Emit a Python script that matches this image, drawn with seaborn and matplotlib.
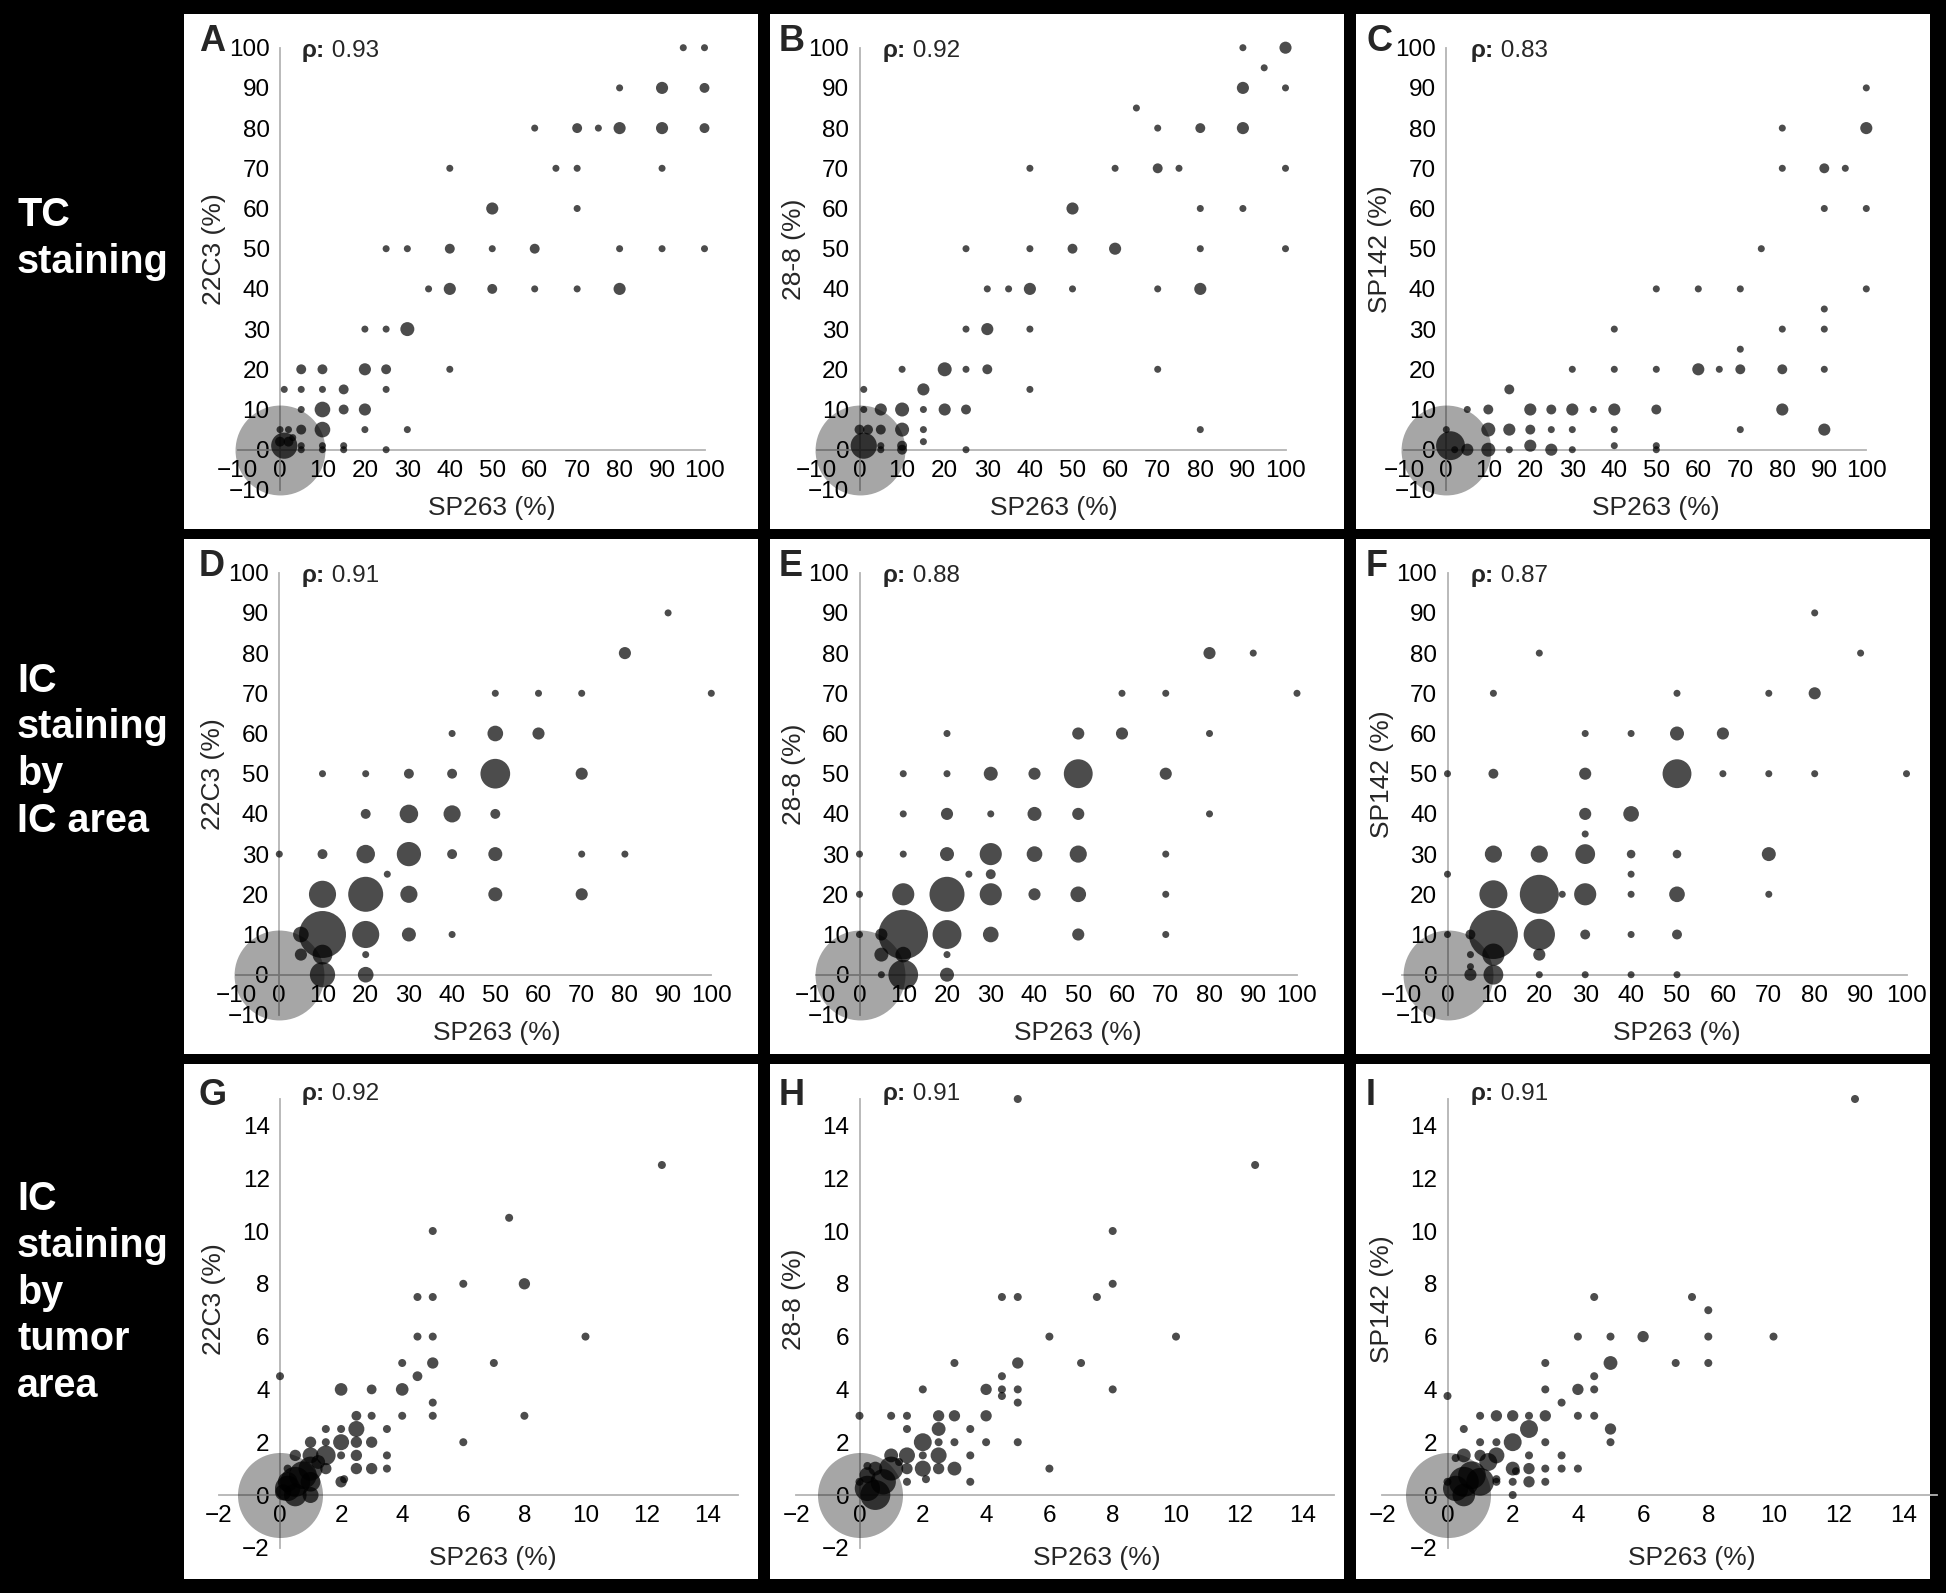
import matplotlib
matplotlib.use("Agg")
import matplotlib.pyplot as plt
from matplotlib.patches import Rectangle
import seaborn as sns
import pandas as pd

# ---- data: (SP263 %, comparator %, number of cases) ----
PANEL_A = [(95, 100, 1), (100, 100, 1),
           (80, 90, 1), (90, 90, 3), (100, 90, 2),
           (60, 80, 1), (70, 80, 2), (75, 80, 1), (80, 80, 3), (90, 80, 3), (100, 80, 2),
           (40, 70, 1), (65, 70, 1), (70, 70, 1), (90, 70, 1),
           (50, 60, 3), (70, 60, 1),
           (25, 50, 1), (30, 50, 1), (40, 50, 2), (50, 50, 1), (60, 50, 2), (80, 50, 1),
           (90, 50, 1), (100, 50, 1),
           (35, 40, 1), (40, 40, 3), (50, 40, 2), (60, 40, 1), (70, 40, 1), (80, 40, 3),
           (20, 30, 1), (25, 30, 1), (30, 30, 4),
           (5, 20, 2), (10, 20, 2), (20, 20, 3), (25, 20, 2), (40, 20, 1),
           (1, 15, 1), (5, 15, 1), (10, 15, 1), (15, 15, 2), (25, 15, 1),
           (5, 10, 1), (10, 10, 5), (15, 10, 2), (20, 10, 3),
           (0, 5, 1), (2, 5, 1), (5, 5, 2), (10, 5, 5), (20, 5, 1), (30, 5, 1),
           (3, 3, 1), (2, 2, 2), (0, 2, 2),
           (5, 1, 1), (10, 1, 1), (15, 1, 1), (1, 1, 14),
           (5, 0, 1), (10, 0, 1), (15, 0, 1), (25, 0, 1)]

PANEL_B = [(90, 100, 1), (100, 100, 3), (95, 95, 1), (90, 90, 3), (100, 90, 1),
           (65, 85, 1),
           (70, 80, 1), (80, 80, 2), (90, 80, 3),
           (40, 70, 1), (60, 70, 1), (70, 70, 2), (75, 70, 1), (100, 70, 1),
           (50, 60, 3), (80, 60, 1), (90, 60, 1),
           (25, 50, 1), (40, 50, 1), (50, 50, 2), (60, 50, 3), (80, 50, 1), (100, 50, 1),
           (30, 40, 1), (35, 40, 1), (40, 40, 3), (50, 40, 1), (70, 40, 1), (80, 40, 3),
           (25, 30, 1), (30, 30, 3), (40, 30, 1),
           (10, 20, 1), (20, 20, 4), (25, 20, 1), (30, 20, 2), (70, 20, 1),
           (1, 15, 1), (15, 15, 3), (40, 15, 1),
           (1, 10, 1), (5, 10, 3), (10, 10, 4), (15, 10, 1), (20, 10, 3), (25, 10, 2),
           (0, 5, 2), (2, 5, 2), (5, 5, 2), (10, 5, 4), (15, 5, 1), (80, 5, 1),
           (15, 2, 1), (5, 1, 1), (10, 1, 2), (1, 1, 14),
           (5, 0, 1), (10, 0, 2), (25, 0, 1)]

PANEL_C = [(100, 90, 1),
           (80, 80, 1), (100, 80, 3),
           (80, 70, 1), (90, 70, 2), (95, 70, 1),
           (90, 60, 1), (100, 60, 1),
           (75, 50, 1),
           (50, 40, 1), (60, 40, 1), (70, 40, 1), (100, 40, 1),
           (90, 35, 1),
           (40, 30, 1), (80, 30, 1), (90, 30, 1),
           (70, 25, 1),
           (30, 20, 1), (40, 20, 1), (50, 20, 1), (60, 20, 3), (65, 20, 1), (70, 20, 2),
           (80, 20, 2), (90, 20, 1),
           (15, 15, 2),
           (5, 10, 1), (10, 10, 2), (20, 10, 3), (25, 10, 2), (30, 10, 3), (35, 10, 1),
           (40, 10, 3), (50, 10, 2), (80, 10, 3),
           (0, 5, 1), (10, 5, 4), (15, 5, 3), (20, 5, 2), (25, 5, 1), (30, 5, 1),
           (40, 5, 1), (70, 5, 1), (90, 5, 3),
           (20, 1, 3), (40, 1, 1), (50, 1, 1),
           (1, 1, 17), (2, 0, 1), (5, 0, 3), (10, 0, 4), (15, 0, 1), (25, 0, 3),
           (30, 0, 1), (50, 0, 1)]

PANEL_D = [(90, 90, 1),
           (80, 80, 3),
           (50, 70, 1), (60, 70, 1), (70, 70, 1), (100, 70, 1),
           (40, 60, 1), (50, 60, 5), (60, 60, 3),
           (10, 50, 1), (20, 50, 1), (30, 50, 2), (40, 50, 2), (50, 50, 18), (70, 50, 3),
           (20, 40, 2), (30, 40, 7), (40, 40, 6), (50, 40, 2),
           (0, 30, 1), (10, 30, 2), (20, 30, 7), (30, 30, 12), (40, 30, 2), (50, 30, 4),
           (70, 30, 1), (80, 30, 1),
           (25, 25, 1),
           (10, 20, 15), (20, 20, 25), (30, 20, 6), (50, 20, 4), (70, 20, 3),
           (5, 10, 5), (10, 10, 45), (20, 10, 15), (30, 10, 4), (40, 10, 1),
           (5, 5, 3), (10, 5, 8), (20, 5, 1),
           (10, 0, 13), (20, 0, 5)]

PANEL_E = [(80, 80, 3), (90, 80, 1),
           (60, 70, 1), (70, 70, 1), (100, 70, 1),
           (20, 60, 1), (50, 60, 3), (60, 60, 3), (80, 60, 1),
           (10, 50, 1), (20, 50, 1), (30, 50, 4), (40, 50, 3), (50, 50, 17), (70, 50, 3),
           (10, 40, 1), (20, 40, 3), (30, 40, 1), (40, 40, 4), (50, 40, 3), (80, 40, 1),
           (0, 30, 1), (10, 30, 1), (20, 30, 4), (30, 30, 10), (40, 30, 5), (50, 30, 6),
           (70, 30, 1),
           (25, 25, 1), (30, 25, 2),
           (0, 20, 1), (10, 20, 10), (20, 20, 25), (30, 20, 10), (40, 20, 3), (50, 20, 5),
           (70, 20, 1),
           (0, 10, 1), (5, 10, 3), (10, 10, 50), (20, 10, 17), (30, 10, 5), (50, 10, 3),
           (70, 10, 1),
           (5, 5, 4), (10, 5, 5), (20, 5, 1),
           (5, 0, 1), (10, 0, 18), (20, 0, 4)]

PANEL_F = [(80, 90, 1),
           (20, 80, 1), (90, 80, 1),
           (10, 70, 1), (50, 70, 1), (70, 70, 1), (80, 70, 3),
           (30, 60, 1), (40, 60, 1), (50, 60, 4), (60, 60, 3),
           (0, 50, 1), (10, 50, 2), (30, 50, 3), (50, 50, 17), (60, 50, 1), (70, 50, 1),
           (80, 50, 1), (100, 50, 1),
           (30, 40, 3), (40, 40, 5),
           (30, 35, 1),
           (10, 30, 6), (20, 30, 6), (30, 30, 8), (40, 30, 1.5), (50, 30, 1.5), (70, 30, 4),
           (0, 25, 1), (40, 25, 1),
           (10, 20, 16), (20, 20, 31), (25, 20, 1), (30, 20, 10), (40, 20, 1), (50, 20, 5),
           (70, 20, 1),
           (0, 10, 1), (5, 10, 2), (10, 10, 49), (20, 10, 20), (30, 10, 2), (40, 10, 1),
           (50, 10, 2),
           (5, 5, 1), (10, 5, 10), (20, 5, 3),
           (5, 2, 1),
           (5, 0, 3), (10, 0, 8), (20, 0, 1), (30, 0, 1), (40, 0, 1), (50, 0, 1)]

PANEL_G = [(12.5, 12.5, 1), (7.5, 10.5, 1), (5, 10, 1),
           (6, 8, 1), (8, 8, 2),
           (4.5, 7.5, 1), (5, 7.5, 1),
           (4.5, 6, 1), (5, 6, 1), (10, 6, 1),
           (4, 5, 1), (5, 5, 2), (7, 5, 1),
           (0, 4.5, 1), (4.5, 4.5, 1.5),
           (2, 4, 2.5), (3, 4, 1.5), (4, 4, 2.5),
           (5, 3.5, 1),
           (2.5, 3, 1.5), (3, 3, 1), (4, 3, 1), (5, 3, 1), (8, 3, 1),
           (1.5, 2.5, 1), (2, 2.5, 1), (2.5, 2.5, 4), (3.5, 2.5, 1),
           (1, 2, 2), (1.5, 2, 1), (2, 2, 4), (2.5, 2, 2), (3, 2, 2), (6, 2, 1),
           (0.5, 1.5, 2), (1, 1.5, 4), (1.5, 1.5, 6), (2, 1.5, 1), (2.5, 1.5, 2),
           (3.5, 1.5, 1),
           (1.25, 1.25, 3),
           (0.25, 1, 1), (1.5, 1, 2), (2.5, 1, 2), (3, 1, 2), (3.5, 1, 1),
           (2, 0.5, 2), (2.1, 0.6, 1),
           (0.5, 0.5, 14), (0.75, 0.75, 12), (1, 0.5, 6), (1, 0, 4), (0.5, 0, 8),
           (0.25, 0.25, 10), (0.1, 0.1, 4), (1, 1, 9), (0.25, 0.5, 6)]

PANEL_H = [(5, 15, 1), (12.5, 12.5, 1), (8, 10, 1), (8, 8, 1),
           (4.5, 7.5, 1), (5, 7.5, 1), (7.5, 7.5, 1),
           (6, 6, 1), (10, 6, 1),
           (3, 5, 1), (5, 5, 2), (7, 5, 1),
           (4.5, 4.5, 1),
           (2, 4, 1), (4, 4, 2), (4.5, 4, 1), (5, 4, 1), (8, 4, 1),
           (4.5, 3.75, 1), (5, 3.5, 1),
           (0, 3, 1), (1, 3, 1), (1.5, 3, 1), (2.5, 3, 2), (3, 3, 2), (4, 3, 2),
           (1.5, 2.5, 1), (2.5, 2.5, 3), (3.5, 2.5, 1),
           (2, 2, 5), (2.5, 2, 1), (3, 2, 1), (4, 2, 1), (5, 2, 1),
           (1, 1.5, 3), (1.5, 1.5, 4), (2, 1.5, 1), (2.5, 1.5, 4), (3.5, 1.5, 1),
           (1.25, 1.25, 1), (1.5, 1, 2), (2, 1, 4), (2.5, 1, 2), (3, 1, 3), (6, 1, 1),
           (1.5, 0.5, 1), (2.1, 0.6, 1), (3.5, 0.5, 1),
           (0.5, 0, 14), (0.25, 0.25, 10), (0.75, 0.5, 10), (1, 1, 9), (0.25, 0.75, 4),
           (0.5, 1, 3), (0, 0.5, 1), (0.25, 1.1, 1)]

PANEL_I = [(12.5, 15, 1),
           (4.5, 7.5, 1), (7.5, 7.5, 1), (8, 7, 1),
           (4, 6, 1), (5, 6, 1), (6, 6, 2), (8, 6, 1), (10, 6, 1),
           (3, 5, 1), (5, 5, 3), (7, 5, 1), (8, 5, 1),
           (4.5, 4.5, 1), (0, 3.75, 1),
           (3, 4, 1), (4, 4, 2), (4.5, 4, 1),
           (3.5, 3.5, 1),
           (1, 3, 1), (1.5, 3, 2), (2, 3, 2), (2.5, 3, 1), (3, 3, 2), (4, 3, 1), (4.5, 3, 1),
           (0.5, 2.5, 1), (2.5, 2.5, 5), (5, 2.5, 2),
           (1, 2, 1), (1.5, 2, 1), (2, 2, 5), (3, 2, 1), (5, 2, 1),
           (0.5, 1.5, 3), (1, 1.5, 2), (1.5, 1.5, 4), (2.5, 1.5, 1), (3.5, 1.5, 1),
           (0.25, 1.4, 1),
           (2, 1, 3), (2.5, 1, 2), (3, 1, 1), (3.5, 1, 1), (4, 1, 1),
           (2.1, 0.9, 1),
           (1.5, 0.5, 1), (2, 0.5, 1), (2.5, 0.5, 2), (3, 0.5, 1),
           (2, 0, 1),
           (0, 0.5, 1), (0.5, 0.5, 14), (0.75, 0.75, 12), (1, 0.5, 12), (0.5, 0, 8),
           (0.25, 0.25, 10), (1.25, 1.25, 5), (1.5, 0.6, 1)]

PANELS = [[PANEL_A, PANEL_B, PANEL_C],
          [PANEL_D, PANEL_E, PANEL_F],
          [PANEL_G, PANEL_H, PANEL_I]]

# cases at (0, 0): the big light bubble in every panel
ORIGIN_N = [[165, 165, 165], [165, 165, 165], [113, 113, 113]]

LETTERS = [["A", "B", "C"], ["D", "E", "F"], ["G", "H", "I"]]
RHO = [["0.93", "0.92", "0.83"], ["0.91", "0.88", "0.87"], ["0.92", "0.91", "0.91"]]
Y_LABELS = ["22C3 (%)", "28-8 (%)", "SP142 (%)"]
X_LABEL = "SP263 (%)"
ROW_LABELS = [["TC", "staining"],
              ["IC", "staining", "by", "IC area"],
              ["IC", "staining", "by", "tumor", "area"]]
ROW_LIMS = [(-10, 100), (-10, 100), (-2, 15)]
ROW_TICKS = [list(range(-10, 101, 10)), list(range(-10, 101, 10)), list(range(-2, 15, 2))]

# ---- layout (pixels of the 1946x1593 output) ----
W, H, DPI = 1946, 1593, 100
PANEL_LEFT = [184, 770, 1356]
ROW_TOP = [14, 539, 1064]
PANEL_W, PANEL_H = 574, 515
X0_OFF = [[96, 89.5, 90.3], [95.3, 89.5, 91.5], [96, 89.5, 91.5]]
X_SCALE = [[4.245, 4.26, 4.20], [4.32, 4.375, 4.59], [30.55, 31.65, 32.6]]
Y0_OFF = [435.7, 435.7, 431]
Y_SCALE = [4.02, 4.02, 26.4]
SMALL_PX = [7, 7, 8]
XLAB_OFF = [[308, 284, 300], [313, 308, 321], [309, 327, 336]]
LETTER_OFF = [15, 9, 10]
RHO_OFF = [118, 113, 115]
LETTER_BASE = [37, 37, 41]
RHO_BASE = [43, 43, 36]

AXIS_GREY = "#b4b4b4"
TICK_SIZE = 17.5
LABEL_SIZE = 19
RHO_SIZE = 17.5
LETTER_SIZE = 26

sns.set_theme(style="white")
plt.rcParams["font.family"] = ["Liberation Sans", "DejaVu Sans"]


def fx(px):
    return px / W


def fy(py):
    return 1 - py / H


fig = plt.figure(figsize=(W / DPI, H / DPI), dpi=DPI, facecolor="black")

# row titles in the black left column
for r, lines in enumerate(ROW_LABELS):
    base0 = [226, 691.5, 1210][r]
    for i, line in enumerate(lines):
        fig.text(fx(17), fy(base0 + 46.8 * i), line, color="white", fontsize=28.5,
                 fontweight="bold", ha="left", va="baseline")

for r in range(3):
    lo, hi = ROW_LIMS[r]
    unit = (SMALL_PX[r] * 72 / DPI) ** 2
    for c in range(3):
        pl, pt = PANEL_LEFT[c], ROW_TOP[r]
        fig.add_artist(Rectangle((fx(pl), fy(pt + PANEL_H)), PANEL_W / W, PANEL_H / H,
                                 transform=fig.transFigure, facecolor="white",
                                 edgecolor="none", zorder=0))

        x0 = pl + X0_OFF[r][c]
        kx = X_SCALE[r][c]
        y0 = pt + Y0_OFF[r]
        ky = Y_SCALE[r]
        left, right = x0 + kx * lo, x0 + kx * hi
        top, bottom = y0 - ky * hi, y0 - ky * lo
        ax = fig.add_axes([fx(left), fy(bottom), (right - left) / W, (bottom - top) / H])
        ax.patch.set_alpha(0)

        df = pd.DataFrame(PANELS[r][c], columns=["x", "y", "n"])
        sns.scatterplot(x=[0], y=[0], s=ORIGIN_N[r][c] * unit, color="black", alpha=0.35,
                        linewidth=0, clip_on=False, legend=False, zorder=3, ax=ax)
        sns.scatterplot(data=df, x="x", y="y", size="n",
                        sizes={v: v * unit for v in df["n"].unique()},
                        color="black", alpha=0.7, linewidth=0, clip_on=False,
                        legend=False, zorder=4, ax=ax)

        ax.set_xlim(lo, hi)
        ax.set_ylim(lo, hi)
        for side in ["top", "right"]:
            ax.spines[side].set_visible(False)
        for side in ["left", "bottom"]:
            ax.spines[side].set_position(("data", 0))
            ax.spines[side].set_color(AXIS_GREY)
            ax.spines[side].set_linewidth(1.3)
        ax.set_xticks(ROW_TICKS[r])
        ax.set_yticks(ROW_TICKS[r])
        ax.tick_params(axis="both", direction="out", length=3.4, width=1.0,
                       color=AXIS_GREY, labelsize=TICK_SIZE, labelcolor="black")
        ax.tick_params(axis="x", pad=4)
        ax.tick_params(axis="y", pad=4)

        ax.set_xlabel(X_LABEL, fontsize=LABEL_SIZE, va="center", ha="center")
        ax.xaxis.set_label_coords(fx(pl + XLAB_OFF[r][c]), fy(pt + 494),
                                  transform=fig.transFigure)
        ax.set_ylabel(Y_LABELS[c], fontsize=LABEL_SIZE, va="center", ha="center")
        ax.yaxis.set_label_coords(fx(x0 - 66), fy(pt + 235), transform=fig.transFigure)

        ax.text(fx(pl + LETTER_OFF[c]), fy(pt + LETTER_BASE[r]), LETTERS[r][c],
                transform=fig.transFigure, fontsize=LETTER_SIZE, fontweight="bold",
                ha="left", va="baseline")
        t = ax.text(fx(pl + RHO_OFF[c]), fy(pt + RHO_BASE[r]), "ρ:",
                    transform=fig.transFigure, fontsize=RHO_SIZE, fontweight="bold",
                    ha="left", va="baseline")
        ax.annotate(" " + RHO[r][c], xy=(1, 0), xycoords=t, fontsize=RHO_SIZE,
                    ha="left", va="bottom")

fig.savefig("out.png", dpi=DPI, facecolor="black")
